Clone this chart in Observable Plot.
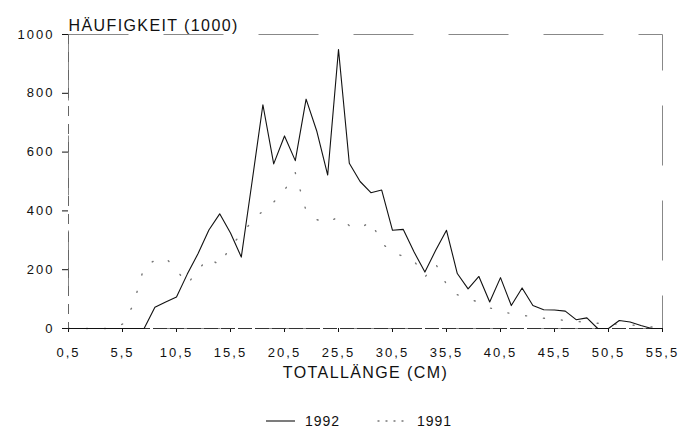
<!DOCTYPE html>
<html>
<head>
<meta charset="utf-8">
<script src="https://cdn.jsdelivr.net/npm/d3@7"></script>
<script src="https://cdn.jsdelivr.net/npm/@observablehq/plot@0.6"></script>
<style>
  body { margin: 0; background: #fff; }
  #wrap { position: relative; width: 680px; height: 432px; font-family: "Liberation Sans", Arial, sans-serif; color: #111; }
  #wrap svg { display: block; }
  g[aria-label="text"] text { letter-spacing: 1.4px; }
  #legend { position: absolute; left: 0; top: 410px; width: 680px; height: 22px; }
  #legend .sw { position: absolute; top: 11px; width: 30px; height: 0; }
  #legend .lb { position: absolute; top: 3px; font-size: 14px; letter-spacing: 1px; line-height: 16px; }
</style>
</head>
<body>
<div id="wrap">
  <div id="chart"></div>
  <div id="legend"></div>
</div>
<script>
// Total length classes (cm)
const lengths = [0.5,1.5,2.5,3.5,4.5,5.5,6.5,7.5,8.5,9.5,10.5,11.5,12.5,13.5,14.5,15.5,16.5,17.5,18.5,19.5,
  20.5,21.5,22.5,23.5,24.5,25.5,26.5,27.5,28.5,29.5,30.5,31.5,32.5,33.5,34.5,35.5,36.5,37.5,38.5,39.5,
  40.5,41.5,42.5,43.5,44.5,45.5,46.5,47.5,48.5,49.5,50.5,51.5,52.5,53.5,54.5,55.5];
// Frequency (1000) 1992
const freq1992 = [0,0,0,0,0,0,0,0,72,90,107,185,255,335,390,325,243,500,761,560,
  655,571,780,670,522,949,562,500,462,471,334,337,260,192,266,334,187,135,177,90,
  173,78,138,78,64,63,59,30,36,0,0,27,22,10,0,0];
// Frequency (1000) 1991
const freq1991 = [0,0,0,0,0,15,80,210,232,240,200,150,200,240,215,280,320,365,400,430,
  470,530,400,370,360,380,350,340,365,290,260,245,230,175,220,150,115,100,90,70,
  60,50,45,40,35,30,28,25,20,18,15,15,12,10,5,0];
const xTicks = [0.5,5.5,10.5,15.5,20.5,25.5,30.5,35.5,40.5,45.5,50.5,55.5];
const yTicks = [0,200,400,600,800,1000];
const years = ["1992","1991"];
const yLabel = "HÄUFIGKEIT (1000)";
const xLabel = "TOTALLÄNGE (CM)";

const rows1992 = lengths.map((l,i) => ({length: l, value: freq1992[i]}));
const rows1991 = lengths.map((l,i) => ({length: l, value: freq1991[i]}));

const chart = Plot.plot({
  width: 680,
  height: 410,
  marginLeft: 68,
  marginRight: 18,
  marginTop: 34,
  marginBottom: 82,
  style: {fontFamily: "Liberation Sans, Arial, sans-serif", fontSize: "13px", letterSpacing: "2px", color: "#111", background: "#fff"},
  x: {domain: [0.5, 55.5], ticks: xTicks, tickFormat: d => d.toFixed(1).replace(".", ","), tickSize: 4, tickPadding: 15, label: null},
  y: {domain: [0, 1000], ticks: yTicks, tickFormat: d => String(d), tickSize: 6, tickPadding: 8, label: null},
  marks: [
    Plot.frame({stroke: "#888", strokeDasharray: "60,35", strokeWidth: 1}),
    Plot.ruleY([0], {stroke: "#333", strokeDasharray: "14,3", strokeWidth: 1}),
    Plot.ruleX([0.5], {stroke: "#666", strokeDasharray: "10,8", strokeWidth: 1}),
    Plot.line(rows1991, {x: "length", y: "value", stroke: "#777", strokeWidth: 1.4, strokeDasharray: "1,17", strokeLinecap: "round"}),
    Plot.line(rows1992, {x: "length", y: "value", stroke: "#111", strokeWidth: 1.1}),
    Plot.text([yLabel], {frameAnchor: "top-left", dy: -15, textAnchor: "start", fontSize: 16}),
    Plot.text([xLabel], {frameAnchor: "bottom", dy: 49, fontSize: 16})
  ]
});
document.getElementById("chart").appendChild(chart);

// Legend
const legend = document.getElementById("legend");
const items = [
  {name: years[0], swLeft: 265, lbLeft: 305, dash: null},
  {name: years[1], swLeft: 377, lbLeft: 417, dash: "1,7"}
];
items.forEach(it => {
  const sw = document.createElement("div");
  sw.className = "sw"; sw.style.left = it.swLeft + "px";
  sw.innerHTML = '<svg width="30" height="4" style="position:absolute;top:-2px"><line x1="1" y1="2" x2="30" y2="2" stroke="' +
    (it.dash ? '#777' : '#111') + '" stroke-width="' + (it.dash ? 1.4 : 1.1) + '"' +
    (it.dash ? ' stroke-dasharray="' + it.dash + '" stroke-linecap="round"' : '') + '/></svg>';
  legend.appendChild(sw);
  const lb = document.createElement("div");
  lb.className = "lb"; lb.style.left = it.lbLeft + "px"; lb.textContent = it.name;
  legend.appendChild(lb);
});
</script>
</body>
</html>
